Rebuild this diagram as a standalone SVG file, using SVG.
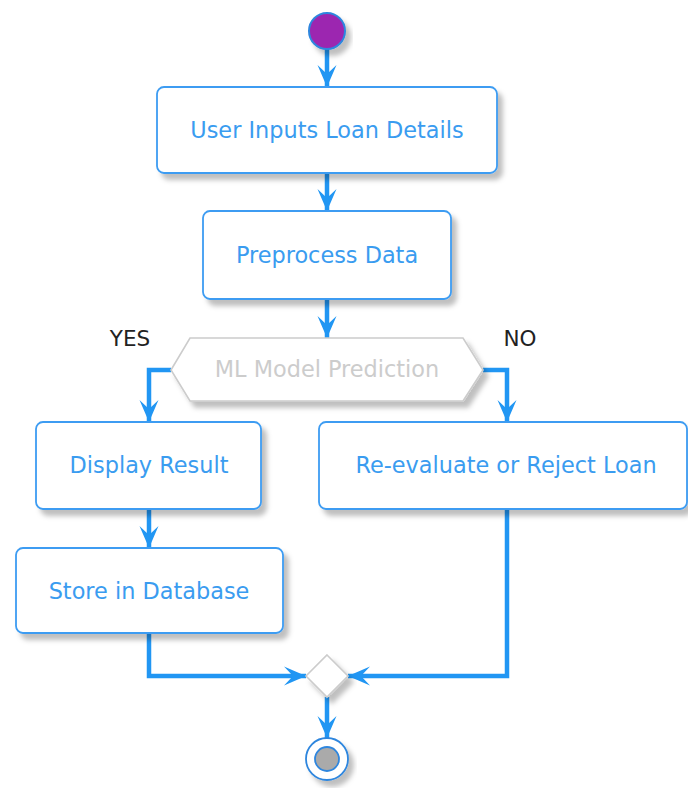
<svg xmlns="http://www.w3.org/2000/svg" width="688" height="788" viewBox="0 0 688 788">
<defs>
<filter id="sh" x="-10%" y="-10%" width="130%" height="150%">
<feDropShadow dx="5" dy="6" stdDeviation="2.5" flood-color="#000" flood-opacity="0.25"/>
</filter>
<marker id="ah" markerUnits="userSpaceOnUse" markerWidth="26" markerHeight="22" viewBox="-24 -11 26 22" refX="0" refY="0" orient="auto">
<path d="M0,0 L-22,-9.5 L-13,0 L-22,9.5 Z" fill="#2196F3"/>
</marker>
<style>
.box{fill:#fff;stroke:#3d9cf2;stroke-width:1.8;filter:url(#sh)}
.t{font-family:"DejaVu Sans",sans-serif;font-size:22.4px;fill:#3a9cf0;text-anchor:middle}
.lbl{font-family:"DejaVu Sans",sans-serif;font-size:21.5px;fill:#222;text-anchor:middle}
.c{fill:none;stroke:#2196F3;stroke-width:4.5}
</style>
</defs>
<g id="connectors">
<line class="c" x1="327" y1="48" x2="327" y2="87" marker-end="url(#ah)"/>
<line class="c" x1="327" y1="173" x2="327" y2="211" marker-end="url(#ah)"/>
<line class="c" x1="327" y1="299" x2="327" y2="338" marker-end="url(#ah)"/>
<polyline class="c" points="171,370 149,370 149,422" marker-end="url(#ah)"/>
<polyline class="c" points="483,370 507,370 507,422" marker-end="url(#ah)"/>
<line class="c" x1="149" y1="509" x2="149" y2="548" marker-end="url(#ah)"/>
<polyline class="c" points="149,633 149,676 306,676" marker-end="url(#ah)"/>
<polyline class="c" points="507,509 507,676 348,676" marker-end="url(#ah)"/>
<line class="c" x1="327" y1="697" x2="327" y2="738" marker-end="url(#ah)"/>
</g>
<g id="start">
<circle cx="327" cy="31" r="18" fill="#9C27B0" stroke="#2E86DE" stroke-width="2" filter="url(#sh)"/>
</g>
<g id="n1">
<rect class="box" x="157" y="87" width="340" height="86" rx="7"/>
<text class="t" x="327" y="138">User Inputs Loan Details</text>
</g>
<g id="n2">
<rect class="box" x="203" y="211" width="248" height="88" rx="7"/>
<text class="t" x="327" y="263">Preprocess Data</text>
</g>
<g id="decision">
<polygon points="171,370 190,338 463,338 483,370 463,401 190,401" fill="#fff" stroke="#cccccc" stroke-width="1.6" filter="url(#sh)"/>
<text x="327" y="377" font-family="DejaVu Sans, sans-serif" font-size="22.4" fill="#cccccc" text-anchor="middle">ML Model Prediction</text>
<text class="lbl" x="130" y="346">YES</text>
<text class="lbl" x="520" y="346">NO</text>
</g>
<g id="n3">
<rect class="box" x="36" y="422" width="225" height="87" rx="7"/>
<text class="t" x="149" y="473">Display Result</text>
</g>
<g id="n4">
<rect class="box" x="16" y="548" width="267" height="85" rx="7"/>
<text class="t" x="149" y="599">Store in Database</text>
</g>
<g id="n5">
<rect class="box" x="319" y="422" width="368" height="87" rx="7"/>
<text class="t" x="506" y="473">Re-evaluate or Reject Loan</text>
</g>
<g id="merge">
<polygon points="327,655 348,676 327,697 306,676" fill="#fff" stroke="#cccccc" stroke-width="1.6" filter="url(#sh)"/>
</g>
<g id="end">
<circle cx="327" cy="759" r="21" fill="#fff" stroke="#2E86DE" stroke-width="1.8" filter="url(#sh)"/>
<circle cx="327" cy="759" r="12" fill="#aaaaaa" stroke="#2E86DE" stroke-width="1.8"/>
</g>
</svg>
